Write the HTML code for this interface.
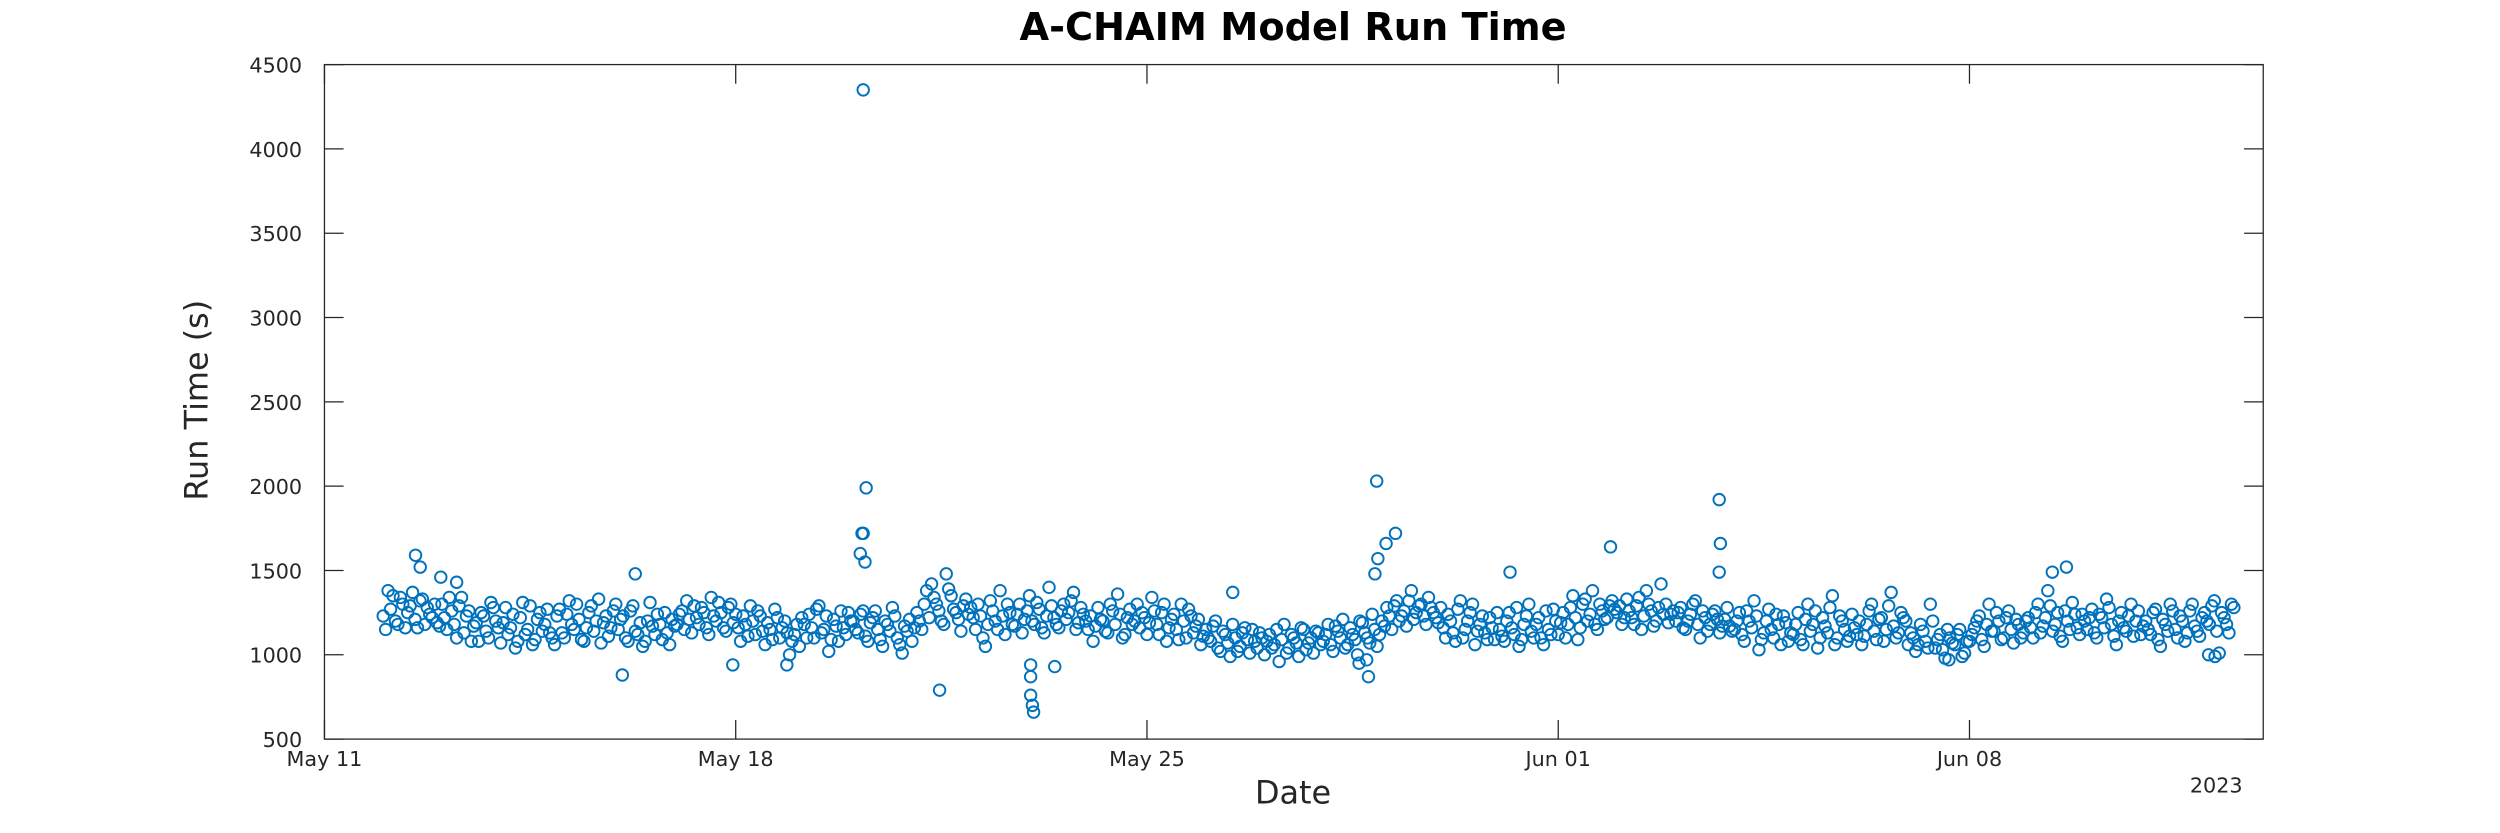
<!DOCTYPE html>
<html><head><meta charset="utf-8"><style>
html,body{margin:0;padding:0;background:#fff;}
svg{display:block;font-family:"DejaVu Sans","Liberation Sans",sans-serif;}
</style></head><body>
<svg id="chart" width="2500" height="833" viewBox="0 0 1568 522.4" preserveAspectRatio="none" xmlns="http://www.w3.org/2000/svg">
<rect width="1568" height="523" fill="#fff"/>
<text x="811" y="25" text-anchor="middle" font-size="24" font-weight="bold" fill="#000">A-CHAIM Model Run Time</text>
<text transform="translate(130,251) rotate(-90)" text-anchor="middle" font-size="20" fill="#262626">Run Time (s)</text>
<text x="811" y="504" text-anchor="middle" font-size="20" fill="#262626">Date</text>
<text x="1390" y="497" text-anchor="middle" font-size="13" fill="#262626">2023</text>
<g id="axes"></g>
<g id="marks"></g>
<rect x="203.5" y="40.5" width="1216" height="423" fill="none" stroke="#262626" stroke-width="0.8"/>
</svg>
<script>
const dailyRunTimes = [
[1230,1380,1350,1180,1300,1250,1370,1160,1330,1280,1220,1190],
[1300,1150,1260,1100,1340,1230,1080,1190,1250,1140,1310,1200],
[1070,1280,1160,1040,1220,1120,1290,1090,1250,1180,1130,1060],
[1270,1100,1320,1150,1210,1080,1250,1140,1330,1190,1110,1260],
[1150,1230,1080,1290,1120,1050,1200,1170,1240,1090,1130,1210],
[1180,1260,1320,1130,1220,1280,1160,1340,1200,1250,1140,1300],
[1240,1080,1180,1290,1120,1230,1060,1150,1270,1100,1200,1000],
[1120,1050,1180,1240,1100,1290,1150,1020,1210,1080,1160,1250],
[1200,1130,1260,1080,1220,1150,1050,1180,1280,1100,1010,1140],
[1080,1250,1150,1380,1420,1300,1200,1480,1350,1250,1140,1330],
[1280,1150,1230,1050,1320,1200,1380,1120,1250,1170,1300,1210],
[1350,1180,1270,1130,1400,1220,1160,1300,1250,1370,1190,1240],
[1150,1080,1280,1200,1130,1260,1360,1100,1220,1180,1300,1250],
[1120,1340,1180,1250,1080,1210,1150,1300,1100,1230,1170,1060],
[1150,1080,1200,1020,1120,990,1100,1050,1160,1010,1080,1130],
[1000,1120,1060,960,1180,1040,1100,990,1150,1070,1010,1130],
[1080,1180,1020,1140,1210,1060,1120,1000,1190,1100,1240,1050],
[1200,1280,1150,1320,1230,1170,1380,1250,1300,1180,1280,1220],
[1280,1100,1200,1080,1320,1150,1250,1060,1180,1130,1220,1090],
[1150,1080,1250,1120,1050,1180,1300,1100,1220,1060,1150,1270],
[1120,1250,1180,1350,1090,1300,1200,1380,1150,1260,1220,1320],
[1250,1180,1330,1220,1290,1150,1380,1260,1200,1420,1300,1240],
[1200,1280,1150,1240,1320,1100,1220,1180,1260,1130,1210,1170],
[1150,1250,1080,1200,1320,1030,1130,1270,1100,1180,1230,1080],
[1120,1250,1060,1300,1180,1040,1220,1130,1350,1100,1200,1080],
[1240,1120,1060,1180,1300,1090,1220,1150,1370,1100,1250,1200],
[1130,1020,1180,1080,1300,1040,1120,980,1100,1060,1150,1010],
[1080,1160,1230,1050,1300,1140,1200,1100,1260,1070,1180,1130],
[1220,1100,1300,1170,1380,1140,1250,1080,1200,1310,1160,1240],
[1150,1270,1100,1220,1330,1180,1060,1250,1140,1300,1200,1120],
[1200,1120,1270,1050,1180,1300,1150,1230,1080,1260,1170,1110],
[1250,1180,1320,1010,1220,1130,1280]
];
const dailyRunTimesB = [
[1150,1270,1200,1340,1160,1290,1210,1320,1180,1240,1300,1170],
[1220,1340,1180,1290,1130,1260,1170,1080,1230,1100,1280,1160],
[1190,1120,1240,1080,1310,1150,1060,1210,1140,1270,1100,1230],
[1130,1240,1180,1300,1090,1160,1290,1200,1070,1230,1160,1300],
[1210,1100,1260,1140,1190,1080,1310,1120,1180,1250,1060,1170],
[1240,1150,1210,1290,1180,1250,1120,1230,1310,1160,1280,1190],
[1160,1230,1110,1200,1260,1140,1190,1090,1220,1160,1130,1080],
[1180,1220,1100,1160,1270,1130,1230,1090,1170,1260,1120,1200],
[1150,1240,1110,1190,1260,1090,1200,1140,1230,1060,1170,1210],
[1160,1200,1300,1220,1340,1260,1180,1390,1270,1210,1290,1240],
[1220,1300,1100,1180,1260,1150,1230,1300,1180,1240,1130,1260],
[1200,1310,1160,1230,1290,1180,1260,1210,1320,1150,1280,1200],
[1230,1170,1210,1140,1300,1180,1240,1120,1270,1200,1160,1220],
[1190,1260,1120,1300,1160,1240,1090,1200,1270,1130,1210,1110],
[1100,1170,1040,1140,1070,1180,1020,1130,1090,1150,1040,1100],
[1080,1040,1150,1090,1010,1120,1070,1160,1030,1100,1140,1060],
[1120,1060,1170,1100,1040,1160,1090,1200,1130,1070,1150,1120],
[1170,1230,1290,1200,1260,1320,1210,1290,1230,1340,1250,1190],
[1160,1240,1130,1270,1100,1200,1300,1140,1230,1090,1160,1250],
[1110,1200,1160,1280,1090,1230,1140,1180,1100,1260,1120,1200],
[1190,1100,1280,1220,1160,1330,1240,1180,1300,1210,1290,1270],
[1290,1220,1260,1180,1340,1230,1300,1170,1280,1240,1190,1260],
[1250,1160,1200,1300,1180,1260,1140,1240,1210,1170,1280,1140],
[1200,1120,1260,1160,1230,1090,1200,1150,1240,1060,1190,1130],
[1180,1090,1210,1140,1260,1100,1170,1280,1060,1230,1150,1110],
[1160,1200,1110,1260,1140,1210,1080,1290,1170,1130,1220,1060],
[1100,1060,1140,1040,1200,1090,1030,1150,1070,1120,990,1080],
[1120,1200,1090,1180,1140,1250,1090,1220,1150,1210,1100,1200],
[1160,1250,1130,1220,1290,1180,1110,1260,1150,1240,1120,1200],
[1220,1130,1240,1160,1280,1110,1200,1160,1230,1110,1260,1170],
[1150,1250,1090,1210,1140,1260,1100,1200,1130,1300,1140,1220],
[1200,1290,1140,1250,1180,1300]
];
const firstDay = 1; // days after May 11
const outlierDays = [9.17,9.22,9.17,9.12,9.15,9.2,1.55,1.63,1.98,2.25,5.07,5.29,6.95,7.87,10.47,12.02,12.02,12.02,12.05,12.07,12.43,15.46,17.61,17.74,17.77,17.91,17.93,17.88,18.07,18.23,20.18,21.89,23.74,23.76,23.74,27.65,29.65,29.41,32.07,32.18];
const outlierValues = [4350,1990,1720,1600,1720,1550,1590,1520,1460,1430,880,1480,940,940,790,940,870,760,700,660,930,1370,950,970,870,2030,1570,1480,1660,1720,1490,1640,1920,1660,1490,970,1520,1490,1000,990];
const yTicks = [500,1000,1500,2000,2500,3000,3500,4000,4500];
const xTickDays = [0,7,14,21,28];
const xTickLabels = ["May 11","May 18","May 25","Jun 01","Jun 08"];

const X0=203.5, X1=1419.5, Y0=463.5, Y1=40.5, DMAX=33, VMIN=500, VMAX=4500;
const xs = d => X0 + d/DMAX*(X1-X0);
const ys = v => Y0 - (v-VMIN)/(VMAX-VMIN)*(Y0-Y1);
const NS="http://www.w3.org/2000/svg";
const axes=document.getElementById('axes'), marks=document.getElementById('marks');
function mk(tag,attrs,parent){const e=document.createElementNS(NS,tag);for(const k in attrs)e.setAttribute(k,attrs[k]);parent.appendChild(e);return e;}

yTicks.forEach(v=>{
  const y=ys(v);
  const l=mk('line',{x1:X0,x2:X0+12,y1:y,y2:y,stroke:'#262626','stroke-width':0.8},axes);
  
  
  const r=mk('line',{x1:X1-12,x2:X1,y1:y,y2:y,stroke:'#262626','stroke-width':0.8},axes);
  
  
  const t=mk('text',{x:X0-14,y:y+5,'text-anchor':'end','font-size':13,fill:'#262626'},axes);
  t.textContent=v;
  
  
});
xTickDays.forEach((d,i)=>{
  const x=xs(d);
  const b=mk('line',{x1:x,x2:x,y1:Y0,y2:Y0-12,stroke:'#262626','stroke-width':0.8},axes);
  
  
  const tp=mk('line',{x1:x,x2:x,y1:Y1,y2:Y1+12,stroke:'#262626','stroke-width':0.8},axes);
  
  
  const t=mk('text',{x:x,y:Y0+17,'text-anchor':'middle','font-size':13,fill:'#262626'},axes);
  t.textContent=xTickLabels[i];
  
  
});
function pt(d,v){
  const c=mk('circle',{cx:xs(d),cy:ys(v),r:3.6,fill:'none',stroke:'#0072BD','stroke-width':1.2},marks);
  
  
}
dailyRunTimes.forEach((arr,di)=>{
  arr.forEach((v,i)=>{ pt(firstDay+di+i/12, v); });
});
dailyRunTimesB.forEach((arr,di)=>{
  arr.forEach((v,i)=>{ pt(firstDay+di+(i+0.5)/12, v); });
});
outlierDays.forEach((d,i)=>pt(d,outlierValues[i]));
</script>
</body></html>
